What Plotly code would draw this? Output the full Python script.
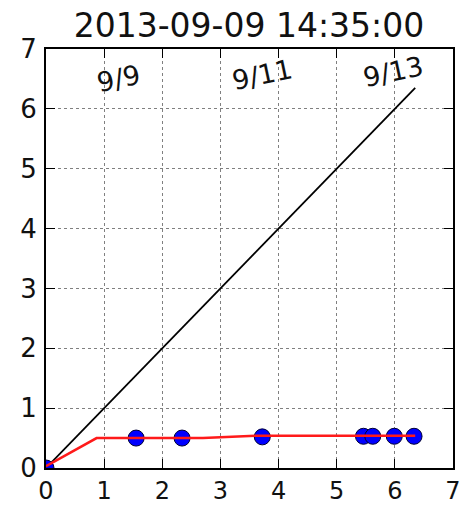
import plotly.graph_objects as go

title_text = "2013-09-09 14:35:00"
ref_x = [0, 6.35]
ref_y = [0, 6.35]
fit_x = [0, 0.87, 2.7, 3.6, 6.35]
fit_y = [0.03, 0.5, 0.5, 0.54, 0.54]
pts_x = [0, 1.55, 2.34, 3.72, 5.46, 5.62, 5.99, 6.33]
pts_y = [0.0, 0.5, 0.5, 0.52, 0.53, 0.53, 0.53, 0.53]
date_pos = [1.25, 3.73, 5.98]
date_labels = ["9/9", "9/11", "9/13"]
axis_ticks = [0, 1, 2, 3, 4, 5, 6, 7]

fig = go.Figure()
fig.add_trace(go.Scatter(x=ref_x, y=ref_y, mode="lines",
                         line=dict(color="black", width=1.8), showlegend=False))
fig.add_trace(go.Scatter(x=pts_x, y=pts_y, mode="markers",
                         marker=dict(color="#0000ff", size=16,
                                     line=dict(color="#000033", width=1)),
                         showlegend=False))
fig.add_trace(go.Scatter(x=fit_x, y=fit_y, mode="lines",
                         line=dict(color="#ff1a1a", width=2.6), showlegend=False))

date_y = [6.5, 6.57, 6.62]
for xp, lab, yp in zip(date_pos, date_labels, date_y):
    fig.add_annotation(x=xp, y=yp, xref="x", yref="y", text=lab, showarrow=False,
                       textangle=-12, font=dict(family="DejaVu Sans", size=27, color="#111111"))

axis_common = dict(range=[0, 7], tickvals=axis_ticks, ticktext=[str(t) for t in axis_ticks],
                   ticks="inside", ticklen=9, tickwidth=1.3, tickcolor="black",
                   showline=True, linecolor="black", linewidth=1.8, mirror="allticks",
                   showgrid=True, gridcolor="#808080", griddash="dot", gridwidth=1,
                   zeroline=False, automargin=False, ticklabeloverflow="allow")

fig.update_layout(
    width=461, height=505,
    margin=dict(l=46, r=8, t=49, b=37),
    paper_bgcolor="white", plot_bgcolor="white",
    title=dict(text=title_text, x=0.54, xanchor="center", y=0.95, yanchor="middle",
               font=dict(family="DejaVu Sans", size=33, color="#111111")),
    xaxis=dict(**axis_common, ticklabelstandoff=0,
               tickfont=dict(family="DejaVu Sans", size=24, color="#111111")),
    yaxis=dict(**axis_common, ticklabelstandoff=2,
               tickfont=dict(family="DejaVu Sans", size=26, color="#111111")),
)

fig.write_html("out.html", config={"displayModeBar": False},
               post_script="document.body.style.margin='0px';document.body.style.overflow='hidden';")
